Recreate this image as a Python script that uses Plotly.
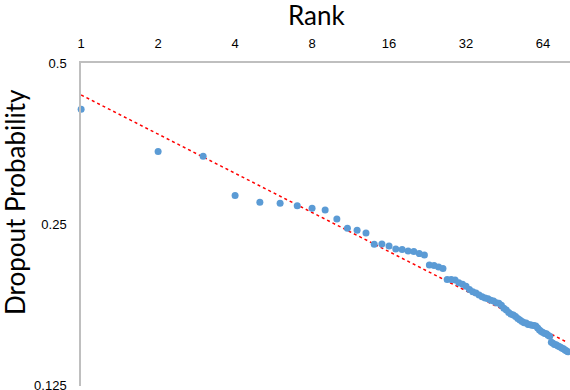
import numpy as np
import plotly.graph_objects as go

# rank of each item and its dropout probability
rank = list(range(1, 81))
dropout = [
    0.410, 0.342, 0.335, 0.283, 0.275, 0.274, 0.271, 0.268, 0.266, 0.256,
    0.246, 0.244, 0.241, 0.2297, 0.2299, 0.228, 0.225, 0.2245, 0.223, 0.2226,
    0.2206, 0.2193, 0.210, 0.2097, 0.2083, 0.207, 0.1975, 0.1975, 0.197, 0.1947,
    0.1934, 0.1918, 0.189, 0.1873, 0.1862, 0.1846, 0.1833, 0.1824, 0.1818, 0.1806,
    0.1799, 0.1787, 0.1783, 0.1768, 0.1745, 0.1731, 0.1713, 0.1701, 0.1694, 0.1684,
    0.167, 0.1659, 0.1649, 0.164, 0.1637, 0.1627, 0.1625, 0.1622, 0.1621, 0.1616,
    0.1602, 0.1589, 0.1579, 0.1572, 0.1565, 0.1563, 0.1553, 0.1547, 0.1508, 0.1501,
    0.1494, 0.1491, 0.1486, 0.1481, 0.1475, 0.147, 0.1466, 0.1459, 0.1453, 0.1447,
]
x_ticks = [1, 2, 4, 8, 16, 32, 64]
y_ticks = [0.125, 0.25, 0.5]
y_tick_text = ["0.125", "0.25", "0.5"]

# power trendline (least squares in log-log, like Excel)
b, log_a = np.polyfit(np.log(rank), np.log(dropout), 1)
trend_x = [rank[0], rank[-1]]
trend_y = [np.exp(log_a) * r ** b for r in trend_x]

fig = go.Figure()
fig.add_trace(go.Scatter(x=trend_x, y=trend_y, mode='lines',
                         line=dict(color='#FF0000', width=1.5, dash='dot'),
                         cliponaxis=False, hoverinfo='skip'))
fig.add_trace(go.Scatter(x=rank, y=dropout, mode='markers',
                         marker=dict(color='#5B9BD5', size=7),
                         cliponaxis=False))

tick_font = dict(family='Liberation Sans, Arial, sans-serif', size=13, color='#000000')
title_font = dict(family='Lato, Open Sans, sans-serif', size=26, color='#000000')

fig.update_layout(
    width=570, height=390,
    margin=dict(l=81, r=0, t=63, b=4),
    plot_bgcolor='white', paper_bgcolor='white',
    showlegend=False,
    xaxis=dict(type='log', side='top', range=[-0.0005, np.log10(2 ** (489 / 77))],
               tickvals=x_ticks, ticktext=[str(v) for v in x_ticks],
               ticks='', showgrid=False, zeroline=False, automargin=False,
               showline=True, linecolor='#BFBFBF', linewidth=1.5,
               tickfont=tick_font, ticklabelstandoff=8),
    # bottom label sits on the page edge, keep it (cut) like the original
    yaxis=dict(type='log', range=[np.log10(0.12495), np.log10(0.5001)],
               tickvals=y_ticks, ticktext=y_tick_text,
               ticks='', showgrid=False, zeroline=False, automargin=False,
               showline=True, linecolor='#BFBFBF', linewidth=1.5,
               tickfont=tick_font, ticklabelstandoff=10, ticklabeloverflow='allow'),
    annotations=[
        dict(text='Rank', xref='paper', yref='paper', x=0.4826, y=1.1486,
             xanchor='center', yanchor='middle', showarrow=False, font=title_font),
        dict(text='Dropout Probability', xref='paper', yref='paper', x=-0.1350, y=0.5697,
             xanchor='center', yanchor='middle', textangle=-90, showarrow=False,
             font=title_font),
    ],
)

# page body has a default 8px margin, drop it so the figure sits at 0,0
fig.write_html("out.html", config={'displayModeBar': False},
               post_script="document.body.style.margin = '0';")
